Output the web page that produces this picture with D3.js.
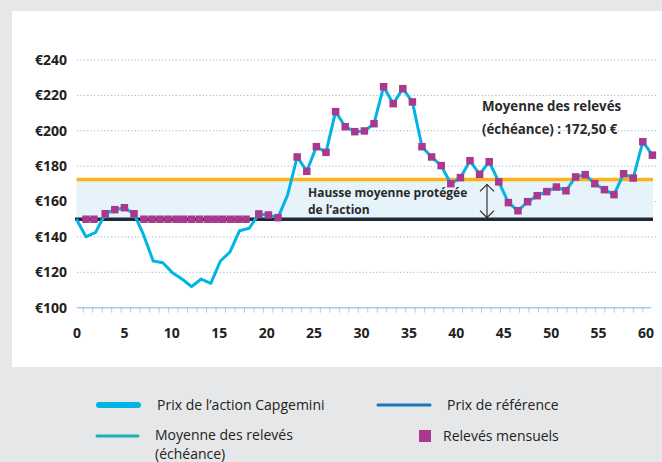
<!DOCTYPE html>
<html><head><meta charset="utf-8">
<script src="https://cdn.jsdelivr.net/npm/d3@7/dist/d3.min.js"></script>
<style>
body{margin:0;background:#e6e7e8;}
svg{display:block;font-family:"Open Sans",sans-serif;}
</style>
</head><body>
<svg id="chart" width="662" height="462"></svg>
<script>
// ---- data ----
const months = d3.range(0, 61);
const priceValues = [150,140.1,142.6,153.1,155.4,156.5,153.1,141.1,126.4,125.4,
  119.8,116.2,111.9,116.2,113.8,126.4,131.5,143.5,144.9,153.0,
  152.4,150.9,163.7,185.2,177.1,191.0,187.8,210.8,202.3,199.5,
  199.9,204.0,224.9,215.3,223.8,216.3,191.0,185.2,180.3,170.1,
  173.5,183.1,175.4,182.5,171.1,159.4,154.8,159.9,163.3,165.6,
  168.2,166.1,173.9,175.2,170.1,166.7,163.9,175.7,173.3,193.8,186.2];
const markerMonths = [1,1.83,3,4,5,6,7.04,7.88,8.71,9.54,10.38,11.14,11.97,12.8,13.64,14.44,15.24,16.07,16.86,17.67,
  19,20,21,23,24,25,26,27,28,29,30,31,32,33,34,35,36,37,38,39,40,41,42,43,44,45,46,47,48,49,50,51,52,53,54,55,56,57,58,59,60];
const markerValues = [150,150,153.1,155.4,156.5,153.1,150,150,150,150,150,150,150,150,150,150,150,150,150,150,
  153.0,152.4,150.9,185.2,177.1,191.0,187.8,210.8,202.3,199.5,199.9,204.0,224.9,215.3,223.8,216.3,191.0,185.2,180.3,170.1,
  173.5,183.1,175.4,182.5,171.1,159.4,154.8,159.9,163.3,165.6,168.2,166.1,173.9,175.2,170.1,166.7,163.9,175.7,173.3,193.8,186.2];
const referencePrice = 150;
const averageReadings = 172.5;
const yTicks = [100,120,140,160,180,200,220,240];
const xTickLabels = [0,5,10,15,20,25,30,35,40,45,50,55,60];
const legendItems = ["Prix de l\u2019action Capgemini","Prix de r\u00e9f\u00e9rence","Moyenne des relev\u00e9s","Relev\u00e9s mensuels"];

// ---- setup ----
const svg = d3.select("#chart");
svg.append("rect").attr("x",0).attr("y",0).attr("width",662).attr("height",462).attr("fill","#e6e7e8");
svg.append("rect").attr("x",12).attr("y",11).attr("width",650).attr("height",356).attr("fill","#ffffff");

const xData = d3.scaleLinear().domain([0,60]).range([76.4,652.4]);
const xAxisScale = d3.scaleLinear().domain([0,60]).range([77,646]);
const y = d3.scaleLinear().domain([100,240]).range([307.7,60]);

// gridlines
svg.append("g").selectAll("line").data(yTicks.filter(d=>d>100)).join("line")
  .attr("x1",77).attr("x2",657).attr("y1",d=>y(d)).attr("y2",d=>y(d))
  .attr("stroke","#8fb8db").attr("stroke-width",1).attr("stroke-dasharray","1.2,2.2");

// band between reference and average
svg.append("rect").attr("x",xData(0)).attr("width",653-xData(0))
  .attr("y",y(averageReadings)).attr("height",y(referencePrice)-y(averageReadings))
  .attr("fill","#e6f3fa");

// x axis line and ticks
svg.append("line").attr("x1",77).attr("x2",651).attr("y1",y(100)).attr("y2",y(100))
  .attr("stroke","#a9cbe7").attr("stroke-width",1.5);
svg.append("g").selectAll("line").data(d3.range(0,60)).join("line")
  .attr("x1",d=>xAxisScale(d+0.66)).attr("x2",d=>xAxisScale(d+0.66))
  .attr("y1",y(100)).attr("y2",y(100)+5)
  .attr("stroke","#a9cbe7").attr("stroke-width",1);

// y labels
svg.append("g").selectAll("text").data(yTicks).join("text")
  .attr("x",67).attr("y",d=>y(d)).attr("dy","0.35em").attr("text-anchor","end")
  .attr("font-size",14).attr("font-weight",700).attr("fill","#222")
  .text(d=>"\u20ac"+d);
// x labels
svg.append("g").selectAll("text").data(xTickLabels).join("text")
  .attr("x",d=>xAxisScale(d)).attr("y",337.5).attr("text-anchor","middle")
  .attr("font-size",14).attr("font-weight",700).attr("fill","#222")
  .text(d=>d);

// average line
svg.append("line").attr("x1",xData(0)+0.3).attr("x2",653).attr("y1",y(averageReadings)).attr("y2",y(averageReadings))
  .attr("stroke","#fbb316").attr("stroke-width",3.5);
// reference line
svg.append("line").attr("x1",75).attr("x2",653).attr("y1",y(referencePrice)).attr("y2",y(referencePrice))
  .attr("stroke","#1c2b38").attr("stroke-width",3.5);

// price line
const line = d3.line().x((d,i)=>xData(months[i])).y(d=>y(d));
svg.append("path").datum(priceValues).attr("d",line)
  .attr("fill","none").attr("stroke","#00b4e4").attr("stroke-width",3).attr("stroke-linejoin","round");

// markers
const ms = 7.5;
svg.append("g").selectAll("rect").data(markerValues).join("rect")
  .attr("x",(d,i)=>xData(markerMonths[i])-ms/2).attr("y",d=>y(d)-ms/2)
  .attr("width",ms).attr("height",ms).attr("fill","#a8398f");

// annotation: band label
const bandText = svg.append("text").attr("font-size",12).attr("font-weight",700).attr("fill","#2a2a2a");
bandText.append("tspan").attr("x",308).attr("y",197).text("Hausse moyenne prot\u00e9g\u00e9e");
bandText.append("tspan").attr("x",308).attr("y",214).text("de l\u2019action");

// annotation: average label
const avgText = svg.append("text").attr("font-size",13.3).attr("font-weight",700).attr("fill","#2a2a2a");
avgText.append("tspan").attr("x",482).attr("y",111).text("Moyenne des relev\u00e9s");
avgText.append("tspan").attr("x",482).attr("y",134).text("(\u00e9ch\u00e9ance) : 172,50 \u20ac");

// double arrow
const ax = xData(42.77), ay1 = y(averageReadings)+5, ay2 = y(referencePrice)-1.5;
const arrow = svg.append("g").attr("stroke","#222").attr("stroke-width",1.1).attr("fill","none");
arrow.append("line").attr("x1",ax).attr("x2",ax).attr("y1",ay1).attr("y2",ay2);
arrow.append("path").attr("d",`M${ax-7},${ay1+7}L${ax},${ay1}L${ax+7},${ay1+7}`);
arrow.append("path").attr("d",`M${ax-7},${ay2-7}L${ax},${ay2}L${ax+7},${ay2-7}`);

// legend
const lg = svg.append("g").attr("font-size",14).attr("font-weight",500).attr("fill","#222");
lg.append("line").attr("x1",99).attr("x2",138).attr("y1",405).attr("y2",405)
  .attr("stroke","#00b4e4").attr("stroke-width",6).attr("stroke-linecap","round");
lg.append("text").attr("x",157).attr("y",410).text(legendItems[0]);
lg.append("line").attr("x1",378).attr("x2",430).attr("y1",405).attr("y2",405)
  .attr("stroke","#1b77b8").attr("stroke-width",3).attr("stroke-linecap","round");
lg.append("text").attr("x",447).attr("y",410).text(legendItems[1]);
lg.append("line").attr("x1",97).attr("x2",138).attr("y1",436).attr("y2",436)
  .attr("stroke","#17b5b3").attr("stroke-width",3).attr("stroke-linecap","round");
lg.append("text").attr("x",155).attr("y",440).text(legendItems[2]);
lg.append("text").attr("x",155).attr("y",458.5).text("(\u00e9ch\u00e9ance)");
lg.append("rect").attr("x",419).attr("y",430).attr("width",12).attr("height",12).attr("fill","#a8398f");
lg.append("text").attr("x",443).attr("y",441).text(legendItems[3]);
</script>
</body></html>
